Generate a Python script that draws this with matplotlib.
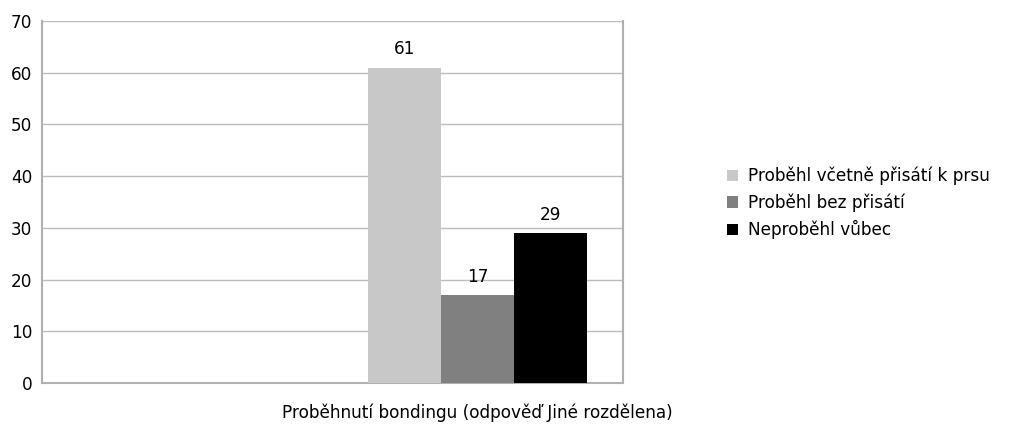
import matplotlib.pyplot as plt
from matplotlib.patches import Patch

plt.rcParams['font.family'] = ['DejaVu Sans']

category = "Proběhnutí bondingu (odpověď Jiné rozdělena)"
series_names = ["Proběhl včetně přisátí k prsu", "Proběhl bez přisátí", "Neproběhl vůbec"]
series_values = [61, 17, 29]
series_colors = ["#c8c8c8", "#808080", "#000000"]
y_ticks = [0, 10, 20, 30, 40, 50, 60, 70]

fig = plt.figure(figsize=(10.15, 4.25), dpi=100)
ax = fig.add_axes([42 / 1015, 1 - 383 / 425, 581 / 1015, 362 / 425])

fs = 12.2
bar_w = 1.0
group_center = 5.97
positions = [group_center + (i - 1) * bar_w for i in range(len(series_values))]
for pos, val, col in zip(positions, series_values, series_colors):
    ax.bar(pos, val, width=bar_w, color=col, edgecolor='none', zorder=3)
    ax.text(pos, val + 1.8, str(val), ha='center', va='bottom', fontsize=fs, color='#000000')

ax.set_xlim(0.0, 581 / 73)
ax.set_ylim(0, 70)
ax.set_yticks(y_ticks)
ax.set_yticklabels([str(t) for t in y_ticks], fontsize=fs)
ax.set_xticks([group_center])
ax.set_xticklabels([category], fontsize=fs)
ax.tick_params(axis='x', length=0, pad=15)
ax.tick_params(axis='y', length=0, pad=7)
ax.yaxis.grid(True, color='#bcbcbc', linewidth=1.0, zorder=0)
for side in ['left', 'right', 'bottom', 'top']:
    ax.spines[side].set_color('#b0b0b0')
    ax.spines[side].set_linewidth(1.5)
ax.spines['top'].set_visible(False)

handles = [Patch(facecolor=c, edgecolor='none') for c in series_colors]
fig.legend(handles, series_names, loc='center left', bbox_to_anchor=(712 / 1015, 1 - 203 / 425),
           frameon=False, fontsize=fs, handlelength=0.65, handleheight=0.65,
           handletextpad=0.6, labelspacing=0.48)

fig.savefig('out.png', dpi=100, facecolor='white')
